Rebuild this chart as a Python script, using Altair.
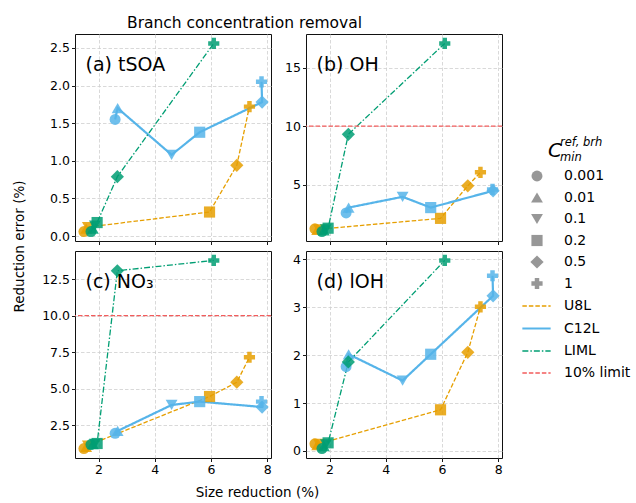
import altair as alt
import pandas as pd

FONT = "DejaVu Sans"

# ---- data -------------------------------------------------------------
schemes = ["U8L", "C12L", "LIML"]
scheme_colors = ["#E69F00", "#56B4E9", "#009E73"]
cmin_labels = ["0.001", "0.01", "0.1", "0.2", "0.5", "1"]
cmin_shapes = ["circle", "triangle-up", "triangle-down", "square", "diamond", "cross"]
cmin_sizes = [120, 140, 140, 125, 175, 125]

# size reduction (%) of each mechanism, one value per C_min threshold
size_u8l = [1.48, 1.56, 1.62, 5.95, 6.92, 7.37]
size_c12l = [2.59, 2.68, 4.60, 5.60, 7.82, 7.80]
size_liml = [1.73, 1.80, 1.87, 1.95, 2.67, 6.10]

# reduction error (%) per species
tsoa_u8l = [0.06, 0.10, 0.12, 0.32, 0.94, 1.72]
tsoa_c12l = [1.55, 1.70, 1.08, 1.38, 1.78, 2.05]
tsoa_liml = [0.06, 0.10, 0.14, 0.18, 0.79, 2.56]

oh_u8l = [1.24, 1.15, 1.20, 2.13, 4.91, 6.06]
oh_c12l = [2.59, 3.05, 3.97, 3.05, 4.48, 4.60]
oh_liml = [1.00, 1.10, 1.20, 1.29, 9.31, 17.07]

no3_u8l = [0.89, 1.00, 1.10, 4.46, 5.44, 7.15]
no3_c12l = [1.94, 2.10, 3.88, 4.11, 3.74, 4.11]
no3_liml = [1.17, 1.20, 1.22, 1.24, 13.08, 13.79]

loh_u8l = [0.15, 0.12, 0.15, 0.86, 2.06, 3.01]
loh_c12l = [1.76, 2.02, 1.47, 2.02, 3.24, 3.66]
loh_liml = [0.05, 0.10, 0.14, 0.17, 1.86, 3.98]

panel_keys = ["a", "b", "c", "d"]
panel_labels = ["(a) tSOA", "(b) OH", "(c) NO\u2083", "(d) lOH"]
panel_ticks = [
    [0, 0.5, 1, 1.5, 2, 2.5],
    [5, 10, 15],
    [2.5, 5, 7.5, 10, 12.5],
    [0, 1, 2, 3, 4],
]
panel_formats = [".1f", "d", ".1f", "d"]
limit_value = 10
limit_panels = ["b", "c"]
x_ticks = [2, 4, 6, 8]

sizes = {"U8L": size_u8l, "C12L": size_c12l, "LIML": size_liml}
errors = {
    "a": {"U8L": tsoa_u8l, "C12L": tsoa_c12l, "LIML": tsoa_liml},
    "b": {"U8L": oh_u8l, "C12L": oh_c12l, "LIML": oh_liml},
    "c": {"U8L": no3_u8l, "C12L": no3_c12l, "LIML": no3_liml},
    "d": {"U8L": loh_u8l, "C12L": loh_c12l, "LIML": loh_liml},
}

rows = []
for p in panel_keys:
    for s in schemes:
        for i, c in enumerate(cmin_labels):
            rows.append({"panel": p, "scheme": s, "cmin": c, "idx": i,
                         "size": sizes[s][i], "err": errors[p][s][i]})
df = pd.DataFrame(rows)


def padded(vals, frac=0.05):
    lo, hi = min(vals), max(vals)
    m = (hi - lo) * frac
    return [lo - m, hi + m]


x_domain = padded(df["size"].tolist())

# ---- shared scales / legends ------------------------------------------
line_domain = schemes + ["10% limit"]
line_colors = scheme_colors + ["#f25c5c"]
line_dash = [[4.5, 2], [1, 0], [6, 2, 1.5, 2], [4.5, 2]]
line_width = [1.3, 2.2, 1.3, 1.3]

line_legend = alt.Legend(
    title=None, orient="none", legendX=446, legendY=257,
    symbolType="stroke", symbolSize=800, labelFontSize=14, labelFont=FONT,
    labelColor="black", labelOffset=12, rowPadding=0, padding=0,
)
shape_legend = alt.Legend(
    title=None, orient="none", legendX=455, legendY=135,
    symbolFillColor="#8c8c8c", symbolStrokeWidth=0, symbolOpacity=0.9,
    labelFontSize=14, labelFont=FONT, labelColor="black",
    labelOffset=20, rowPadding=7.5, padding=0,
)

stroke_enc = alt.Stroke("scheme:N", scale=alt.Scale(domain=line_domain, range=line_colors), legend=line_legend)
dash_enc = alt.StrokeDash("scheme:N", scale=alt.Scale(domain=line_domain, range=line_dash), legend=line_legend)
width_enc = alt.StrokeWidth("scheme:N", scale=alt.Scale(type="ordinal", domain=line_domain, range=line_width), legend=line_legend)

PW, PH = 196, 207


def panel(k):
    i = panel_keys.index(k)
    bottom = k in ("c", "d")
    d = df[df.panel == k]
    y_domain = padded(d["err"].tolist())

    x_axis = alt.Axis(values=x_ticks, format="d", labels=bottom, title=None)
    if k == "c":
        x_axis = alt.Axis(values=x_ticks, format="d", title="Size reduction (%)",
                          titleX=182, titleY=27)
    y_axis = alt.Axis(values=panel_ticks[i], format=panel_formats[i], title=None)
    if k == "a":
        y_axis = alt.Axis(values=panel_ticks[i], format=panel_formats[i],
                          title="Reduction error (%)", titleX=-49, titleY=212)

    X = alt.X("size:Q", scale=alt.Scale(domain=x_domain, nice=False, zero=False), axis=x_axis)
    Y = alt.Y("err:Q", scale=alt.Scale(domain=y_domain, nice=False, zero=False), axis=y_axis)

    base = alt.Chart(d)
    lines = base.mark_line(clip=True).encode(
        x=X, y=Y, stroke=stroke_enc, strokeDash=dash_enc, strokeWidth=width_enc,
        order=alt.Order("idx:Q"),
    )
    points = base.mark_point(filled=True, opacity=0.85, clip=True).encode(
        x=X, y=Y,
        fill=alt.Fill("scheme:N", scale=alt.Scale(domain=schemes, range=scheme_colors), legend=None),
        shape=alt.Shape("cmin:N", scale=alt.Scale(domain=cmin_labels, range=cmin_shapes), legend=shape_legend),
        size=alt.Size("cmin:N", scale=alt.Scale(type="ordinal", domain=cmin_labels, range=cmin_sizes), legend=shape_legend),
    )
    label = alt.Chart(pd.DataFrame({"t": [panel_labels[i]]})).mark_text(
        align="left", baseline="alphabetic", fontSize=19, font=FONT, color="black"
    ).encode(x=alt.value(10.5), y=alt.value(37), text="t:N")

    layers = [lines]
    if k in limit_panels:
        lim = pd.DataFrame({"err": [limit_value], "scheme": ["10% limit"]})
        rule = alt.Chart(lim).mark_rule().encode(
            y=alt.Y("err:Q"), stroke=stroke_enc, strokeDash=dash_enc, strokeWidth=width_enc
        )
        layers.append(rule)
    layers += [points, label]

    if k == "b":
        # legend heading C_min^{ref, brh}
        heading = [
            ("C", 242, 123, 20),
            ("ref, brh", 254, 112, 11.5),
            ("min", 254, 127, 11.5),
        ]
        for txt, hx, hy, fs in heading:
            layers.append(
                alt.Chart(pd.DataFrame({"t": [txt]})).mark_text(
                    align="left", baseline="alphabetic", fontSize=fs, font=FONT,
                    fontStyle="italic", color="black"
                ).encode(x=alt.value(hx), y=alt.value(hy), text="t:N")
            )

    return alt.layer(*layers).properties(width=PW, height=PH)


chart = alt.concat(
    *[panel(k) for k in panel_keys], columns=2, spacing={"row": 10, "column": 35}, bounds="flush"
).resolve_scale(
    x="independent", y="independent",
    stroke="shared", strokeDash="shared", strokeWidth="shared",
    fill="shared", shape="shared", size="shared",
).properties(
    title=alt.TitleParams(
        "Branch concentration removal", anchor="start", frame="group", dx=52,
        fontSize=15.5, fontWeight="normal", font=FONT, color="black",
        baseline="alphabetic", offset=-10,
    ),
    padding={"left": 11, "top": 16, "right": 0, "bottom": 0},
    background="white",
).configure_view(
    stroke="#111", strokeWidth=1
).configure_axis(
    domain=False, grid=True, gridDash=[3.5, 2], gridColor="#cfcfcf", gridWidth=0.8,
    ticks=True, tickColor="black", tickSize=3.5, tickWidth=0.9,
    labelFont=FONT, labelFontSize=12.5, labelColor="black", labelPadding=2,
    titleFont=FONT, titleFontSize=13.5, titleColor="black", titleFontWeight="normal",
)

chart.save("out.html", embed_options={"renderer": "svg", "actions": False})
